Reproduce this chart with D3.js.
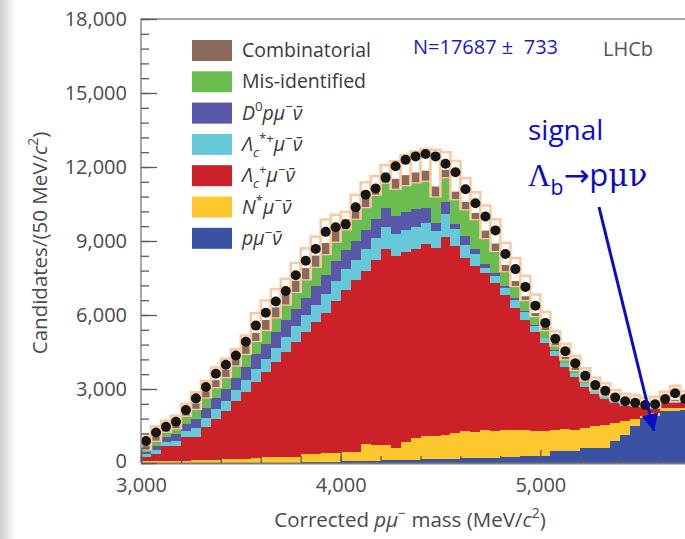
<!DOCTYPE html>
<html>
<head>
<meta charset="utf-8">
<script src="https://cdn.jsdelivr.net/npm/d3@7"></script>
<style>
    body { margin: 0; background: #fff; }
    svg { display: block; }
    text { font-family: "Open Sans", "DejaVu Sans", sans-serif; }
</style>
</head>
<body>
<script>
"use strict";

// lower edge of each 50 MeV bin
var binLow = [3000, 3050, 3100, 3150, 3200, 3250, 3300, 3350, 3400, 3450,
    3500, 3550, 3600, 3650, 3700, 3750, 3800, 3850, 3900, 3950,
    4000, 4050, 4100, 4150, 4200, 4250, 4300, 4350, 4400, 4450,
    4500, 4550, 4600, 4650, 4700, 4750, 4800, 4850, 4900, 4950,
    5000, 5050, 5100, 5150, 5200, 5250, 5300, 5350, 5400, 5450,
    5500, 5550, 5600, 5650, 5700];

// fit components, bottom to top of the stack
var pmunu = [20, 20, 20, 20, 20, 20, 20, 20, 20, 20,
    20, 20, 20, 20, 20, 20, 40, 40, 40, 40,
    80, 80, 80, 80, 120, 120, 120, 120, 160, 160,
    160, 160, 200, 200, 200, 200, 240, 240, 300, 300,
    300, 480, 480, 480, 600, 600, 620, 880, 1150, 1490,
    1820, 1890, 2095, 2100, 2150];
var nstar = [50, 60, 60, 70, 80, 90, 90, 100, 140, 150,
    160, 170, 210, 220, 230, 240, 310, 330, 350, 360,
    360, 380, 710, 660, 600, 500, 740, 880, 940, 920,
    990, 1040, 1100, 1070, 1120, 1100, 1090, 1080, 1020, 980,
    1000, 860, 900, 840, 820, 880, 920, 740, 550, 290,
    80, 140, 135, 130, 100];
var lambdac = [175, 285, 610, 600, 950, 940, 1350, 1660, 1940, 2340,
    2700, 3110, 3470, 3860, 4250, 4640, 4950, 5330, 5710, 6150,
    6560, 6940, 7010, 7510, 7960, 7770, 7690, 7680, 7780, 7620,
    8020, 7600, 7000, 6730, 6380, 6000, 5470, 4980, 4480, 4020,
    3550, 3010, 2520, 2180, 1680, 1320, 1060, 800, 630, 500,
    350, 170, 220, 220, 220];
var lambdacStar = [100, 170, 180, 220, 250, 350, 350, 400, 430, 450,
    480, 500, 520, 560, 600, 640, 680, 720, 760, 820,
    850, 850, 870, 880, 900, 900, 900, 880, 870, 690,
    920, 690, 540, 470, 200, 300, 300, 320, 330, 250,
    200, 200, 140, 140, 140, 80, 80, 70, 60, 50,
    40, 40, 30, 30, 30];
var d0pmunu = [100, 170, 200, 250, 300, 400, 400, 450, 480, 500,
    550, 600, 620, 650, 680, 700, 720, 740, 760, 800,
    780, 760, 760, 750, 740, 740, 730, 720, 600, 320,
    490, 200, 350, 200, 150, 100, 80, 60, 40, 30,
    30, 25, 20, 15, 15, 10, 10, 10, 10, 10,
    10, 10, 10, 10, 10];
var misid = [120, 200, 200, 250, 320, 400, 450, 450, 480, 500,
    520, 550, 560, 600, 650, 700, 750, 800, 850, 810,
    850, 900, 950, 1000, 1050, 1090, 1090, 1100, 1100, 1100,
    1010, 1010, 1100, 1220, 1070, 900, 600, 500, 440, 380,
    310, 200, 150, 120, 90, 60, 50, 40, 30, 30,
    30, 30, 30, 30, 30];
var comb = [150, 180, 150, 180, 200, 220, 250, 280, 300, 300,
    320, 330, 400, 400, 420, 450, 450, 450, 450, 420,
    400, 400, 400, 400, 400, 400, 400, 400, 400, 400,
    300, 300, 300, 250, 300, 300, 250, 200, 150, 120,
    120, 100, 100, 80, 80, 60, 60, 50, 50, 40,
    40, 40, 40, 40, 40];

// data and upper edge of the fit band
var dataPoints = [890, 1240, 1470, 1670, 2150, 2620, 3080, 3620, 3980, 4360,
    4920, 5570, 6090, 6550, 6970, 7610, 8200, 8680, 9370, 9560,
    9680, 10370, 10880, 11130, 11570, 12030, 12290, 12430, 12530, 12430,
    12130, 11790, 11100, 10530, 9990, 9430, 8470, 7860, 7140, 6380,
    5680, 5040, 4530, 4040, 3540, 3160, 2930, 2660, 2500, 2440,
    2350, 2380, 2590, 2830, 2600];
var fitUpper = [1140, 1490, 1720, 1920, 2400, 2870, 3330, 3870, 4230, 4610,
    5170, 6070, 6590, 7050, 7470, 8110, 8700, 9180, 9870, 10060,
    10180, 10870, 11380, 11630, 12070, 12230, 12490, 12630, 12730, 12700,
    12600, 12250, 11550, 10980, 10440, 9880, 8920, 8310, 7590, 6830,
    6130, 5340, 4830, 4340, 3840, 3460, 3230, 2960, 2800, 2740,
    2650, 2680, 2890, 3130, 2900];

var yTicks = [0, 3000, 6000, 9000, 12000, 15000, 18000];
var xTicks = [3000, 4000, 5000];

var keys = ["pmunu", "nstar", "lambdac", "lambdacStar", "d0", "misid", "comb"];
var colors = {
    pmunu: "#3a52a3",
    nstar: "#fdc72e",
    lambdac: "#cc2128",
    lambdacStar: "#66c9da",
    d0: "#5b57a8",
    misid: "#6abd4e",
    comb: "#8b6a5c"
};

function richText(sel, parts, size) {
    var cur = 0;
    parts.forEach(function (p) {
        var target = p.sup ? -size * 0.42 : (p.sub ? size * 0.3 : 0);
        var ts = sel.append("tspan").text(p.t).attr("dy", target - cur);
        cur = target;
        if (p.sup || p.sub) ts.attr("font-size", size * 0.68);
        if (p.i) ts.attr("font-style", "italic");
        if (p.f) ts.attr("font-family", p.f);
    });
}

function init() {
    var w = 685;
    var h = 539;
    var binW = 50;

    var xScale = d3.scaleLinear()
        .domain([3000, 6000])
        .range([141, 740]);

    var yScale = d3.scaleLinear()
        .domain([0, 18000])
        .range([463, 19]);

    var svg = d3.select("body")
        .append("svg")
        .attr("width", w)
        .attr("height", h);

    //Slide shadow on the left edge
    var defs = svg.append("defs");
    var grad = defs.append("linearGradient")
        .attr("id", "edge")
        .attr("x1", 0).attr("x2", 1).attr("y1", 0).attr("y2", 0);
    grad.append("stop").attr("offset", 0).attr("stop-color", "#cdcdcd");
    grad.append("stop").attr("offset", 1).attr("stop-color", "#ffffff");
    svg.append("rect")
        .attr("x", 0).attr("y", 0)
        .attr("width", 16).attr("height", h)
        .attr("fill", "url(#edge)");

    defs.append("clipPath").attr("id", "plot")
        .append("rect")
        .attr("x", 141).attr("y", 19)
        .attr("width", 600).attr("height", 444);
    defs.append("marker")
        .attr("id", "head")
        .attr("viewBox", "0 0 10 10")
        .attr("refX", 10).attr("refY", 5)
        .attr("markerUnits", "userSpaceOnUse")
        .attr("markerWidth", 20).attr("markerHeight", 17)
        .attr("orient", "auto")
        .append("path")
        .attr("d", "M0,0 L10,5 L0,10 z")
        .attr("fill", "#0b0bc9");

    var rows = binLow.map(function (b, i) {
        return {
            x: b,
            pmunu: pmunu[i],
            nstar: nstar[i],
            lambdac: lambdac[i],
            lambdacStar: lambdacStar[i],
            d0: d0pmunu[i],
            misid: misid[i],
            comb: comb[i],
            data: dataPoints[i],
            fit: fitUpper[i]
        };
    });

    var series = d3.stack().keys(keys)(rows);

    var plot = svg.append("g").attr("clip-path", "url(#plot)");

    function bw(d) {
        return xScale(d.data.x + binW) - xScale(d.data.x);
    }

    //Create stacked bars (everything but combinatorial)
    series.slice(0, 6).forEach(function (s) {
        plot.append("g")
            .selectAll("rect")
            .data(s)
            .enter()
            .append("rect")
            .attr("x", function (d) { return xScale(d.data.x); })
            .attr("y", function (d) { return yScale(d[1]); })
            .attr("width", bw)
            .attr("height", function (d) { return yScale(d[0]) - yScale(d[1]); })
            .attr("fill", colors[s.key])
            .attr("shape-rendering", "crispEdges");
    });

    //Fit band boxes
    var combSeries = series[6];
    plot.append("g")
        .selectAll("rect")
        .data(combSeries)
        .enter()
        .append("rect")
        .attr("x", function (d) { return xScale(d.data.x); })
        .attr("y", function (d) { return yScale(d.data.fit); })
        .attr("width", bw)
        .attr("height", function (d) { return yScale(d[0]) - yScale(d.data.fit); })
        .attr("fill", "#ffffff")
        .attr("stroke", "#fac9a0")
        .attr("stroke-width", 2.5);

    //Combinatorial inside the boxes
    plot.append("g")
        .selectAll("rect")
        .data(combSeries)
        .enter()
        .append("rect")
        .attr("x", function (d) { return xScale(d.data.x) + 1.3; })
        .attr("y", function (d) { return yScale(d[1]); })
        .attr("width", function (d) { return bw(d) - 2.6; })
        .attr("height", function (d) { return yScale(d[0]) - yScale(d[1]); })
        .attr("fill", colors.comb);

    //Data points
    plot.append("g")
        .selectAll("circle")
        .data(rows)
        .enter()
        .append("circle")
        .attr("cx", function (d) { return xScale(d.x + binW / 2); })
        .attr("cy", function (d) { return yScale(d.data); })
        .attr("r", 5)
        .attr("fill", "#161616");

    //Frame
    svg.append("path")
        .attr("d", "M141,463 V19 H740")
        .attr("fill", "none")
        .attr("stroke", "#8a8a8a")
        .attr("stroke-width", 1.5);
    svg.append("line")
        .attr("x1", 141).attr("x2", 740)
        .attr("y1", 463.5).attr("y2", 463.5)
        .attr("stroke", "#7a7a7a")
        .attr("stroke-width", 2);

    //Y axis
    var yMinor = svg.append("g")
        .attr("transform", "translate(141,0)")
        .call(d3.axisLeft(yScale)
            .tickValues(d3.range(0, 18001, 600))
            .tickSize(-8)
            .tickFormat(""));
    var yAxis = svg.append("g")
        .attr("transform", "translate(141,0)")
        .call(d3.axisLeft(yScale)
            .tickValues(yTicks)
            .tickSize(-16)
            .tickPadding(14)
            .tickFormat(d3.format(",")));

    //X axis
    var xMinor = svg.append("g")
        .attr("transform", "translate(0,463)")
        .call(d3.axisBottom(xScale)
            .tickValues(d3.range(3000, 6001, 200))
            .tickSize(-7)
            .tickFormat(""));
    var xAxis = svg.append("g")
        .attr("transform", "translate(0,463)")
        .call(d3.axisBottom(xScale)
            .tickValues(xTicks)
            .tickSize(-13)
            .tickPadding(15)
            .tickFormat(d3.format(",")));

    [yMinor, yAxis, xMinor, xAxis].forEach(function (a) {
        a.select(".domain").remove();
        a.selectAll("line").attr("stroke", "#5a5a5a").attr("stroke-width", 1.3);
        a.selectAll("text")
            .attr("font-family", "'Open Sans', sans-serif")
            .attr("font-size", 20)
            .attr("fill", "#4a4a4a");
    });
    // keep the "0" clear of the "3,000" below it
    yAxis.selectAll(".tick text")
        .filter(function (d) { return d === 0; })
        .attr("dy", "0.2em");

    //Axis titles
    var xt = svg.append("text")
        .attr("x", 410).attr("y", 527)
        .attr("text-anchor", "middle")
        .attr("font-size", 20.5)
        .attr("fill", "#4a4a4a");
    richText(xt, [{t: "Corrected "}, {t: "p\u03bc", i: true}, {t: "\u2212", sup: true},
        {t: " mass (MeV/"}, {t: "c", i: true}, {t: "2", sup: true}, {t: ")"}], 20.5);

    var yt = svg.append("text")
        .attr("transform", "translate(47,243) rotate(-90)")
        .attr("text-anchor", "middle")
        .attr("font-size", 20.5)
        .attr("fill", "#4a4a4a");
    richText(yt, [{t: "Candidates/(50 MeV/"}, {t: "c", i: true}, {t: "2", sup: true}, {t: ")"}], 20.5);

    //Legend
    var legendKeys = ["comb", "misid", "d0", "lambdacStar", "lambdac", "nstar", "pmunu"];
    var legendLabels = [
        [{t: "Combinatorial"}],
        [{t: "Mis-identified"}],
        [{t: "D", i: true}, {t: "0", sup: true}, {t: "p\u03bc", i: true}, {t: "\u2212", sup: true}, {t: "\u03bd\u0304", i: true}],
        [{t: "\u039b", i: true}, {t: "c", sub: true, i: true}, {t: "*+", sup: true}, {t: "\u03bc", i: true}, {t: "\u2212", sup: true}, {t: "\u03bd\u0304", i: true}],
        [{t: "\u039b", i: true}, {t: "c", sub: true, i: true}, {t: "+", sup: true}, {t: "\u03bc", i: true}, {t: "\u2212", sup: true}, {t: "\u03bd\u0304", i: true}],
        [{t: "N", i: true}, {t: "*", sup: true}, {t: "\u03bc", i: true}, {t: "\u2212", sup: true}, {t: "\u03bd\u0304", i: true}],
        [{t: "p\u03bc", i: true}, {t: "\u2212", sup: true}, {t: "\u03bd\u0304", i: true}]
    ];
    var legend = svg.append("g").attr("transform", "translate(192,40)");
    legendKeys.forEach(function (k, i) {
        var row = legend.append("g").attr("transform", "translate(0," + (i * 31.3) + ")");
        row.append("rect")
            .attr("width", 40).attr("height", 21)
            .attr("fill", colors[k]);
        var lt = row.append("text")
            .attr("x", 50).attr("y", 17)
            .attr("font-size", 19.5)
            .attr("fill", "#3a3a3a");
        richText(lt, legendLabels[i], 19.5);
    });

    //Annotations
    svg.append("text")
        .attr("x", 413).attr("y", 54)
        .attr("font-size", 20)
        .attr("fill", "#1a1ac8")
        .style("white-space", "pre")
        .text("N=17687 \u00b1  733");
    svg.append("text")
        .attr("x", 603).attr("y", 56)
        .attr("font-size", 20)
        .attr("fill", "#555")
        .text("LHCb");
    svg.append("text")
        .attr("x", 528).attr("y", 140)
        .attr("font-size", 28)
        .attr("fill", "#0b0bc9")
        .text("signal");
    var sig = svg.append("text")
        .attr("x", 528).attr("y", 186)
        .attr("font-size", 31)
        .attr("fill", "#0b0bc9");
    richText(sig, [{t: "\u039b", f: "'Liberation Serif', serif"}, {t: "b", sub: true},
        {t: "\u2192p"}, {t: "\u03bc\u03bd", f: "'DejaVu Serif', serif"}], 31);

    svg.append("line")
        .attr("x1", 599).attr("y1", 207)
        .attr("x2", 654).attr("y2", 431)
        .attr("stroke", "#0b0bc9")
        .attr("stroke-width", 3)
        .attr("marker-end", "url(#head)");
}

window.onload = init;
</script>
</body>
</html>
